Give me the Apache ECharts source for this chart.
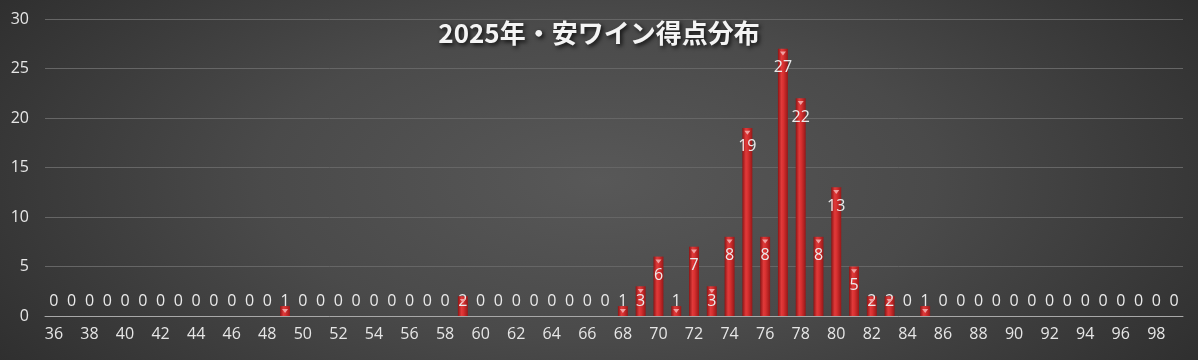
<!DOCTYPE html>
<html><head><meta charset="utf-8">
<script src="https://cdn.jsdelivr.net/npm/echarts@6/dist/echarts.min.js"></script>
<style>
html,body{margin:0;padding:0;background:#2a2a2a;}
#c{width:1198px;height:360px;background:radial-gradient(ellipse 70% 110% at 50% 50%, #585858 0%, #4a4a4a 40%, #262626 100%);}
</style></head><body>
<div id="c"></div>
<script>
const titleText = '2025年・安ワイン得点分布';
const scores = [];
for (let s = 36; s <= 99; s++) scores.push(String(s));
const counts = [
  0,0,0,0,0,0,0,0,0,0,0,0,0,1,0,0,0,0,0,0,   // 36-55
  0,0,0,2,0,0,0,0,0,0,0,0,1,3,6,1,7,3,8,19,  // 56-75
  8,27,22,8,13,5,2,2,0,1,0,0,0,0,0,0,0,0,0,0, // 76-95
  0,0,0,0                                     // 96-99
];
const yTicks = [0,5,10,15,20,25,30];

const barColor = {
  type:'linear', x:0, y:0, x2:1, y2:0,
  colorStops:[
    {offset:0, color:'#8e1414'},
    {offset:0.35, color:'#e03a3a'},
    {offset:0.55, color:'#d83030'},
    {offset:1, color:'#961818'}
  ]
};
const fontFam = '"Open Sans","Noto Sans",sans-serif';

const data = counts.map(v => ({
  value: v,
  label: v >= 4
    ? {position:'insideTop', distance:11}
    : {position:'insideBottom', distance:7}
}));
const capData = counts.map(v => v > 0 ? v : '-');

const chart = echarts.init(document.getElementById('c'));
chart.setOption({
  backgroundColor:'transparent',
  animation:false,
  title:{
    text:titleText, left:'center', top:15,
    textStyle:{color:'#f4f4f4', fontSize:26, fontWeight:'bold',
      fontFamily:'"Noto Sans CJK JP","Noto Sans",sans-serif',
      textShadowColor:'rgba(0,0,0,0.8)', textShadowBlur:4, textShadowOffsetX:2, textShadowOffsetY:2}
  },
  grid:{left:45, right:15, top:19, bottom:44, containLabel:false},
  xAxis:{
    type:'category', data:scores,
    axisLine:{lineStyle:{color:'#a8a8a8', width:1}},
    axisTick:{show:false},
    axisLabel:{color:'#e6e6e6', fontSize:16, interval:1, margin:10, fontFamily:fontFam}
  },
  yAxis:{
    type:'value', min:0, max:30, interval:5,
    axisLine:{show:false}, axisTick:{show:false},
    splitLine:{lineStyle:{color:'#666666', width:1}},
    axisLabel:{color:'#e6e6e6', fontSize:16, margin:16, fontFamily:fontFam,
      formatter: v => yTicks.includes(v) ? String(v) : ''}
  },
  series:[{
    type:'bar', data:data, barWidth:'56%', z:2,
    itemStyle:{color:barColor},
    label:{show:true, color:'#eaeaea', fontSize:16, fontFamily:fontFam}
  },{
    type:'pictorialBar', data:capData, z:3,
    symbol:'triangle', symbolRotate:180, symbolSize:[6,4],
    symbolPosition:'end', symbolOffset:[0,'70%'],
    itemStyle:{color:'#f0a0a0'},
    silent:true
  }]
});
</script>
</body></html>
